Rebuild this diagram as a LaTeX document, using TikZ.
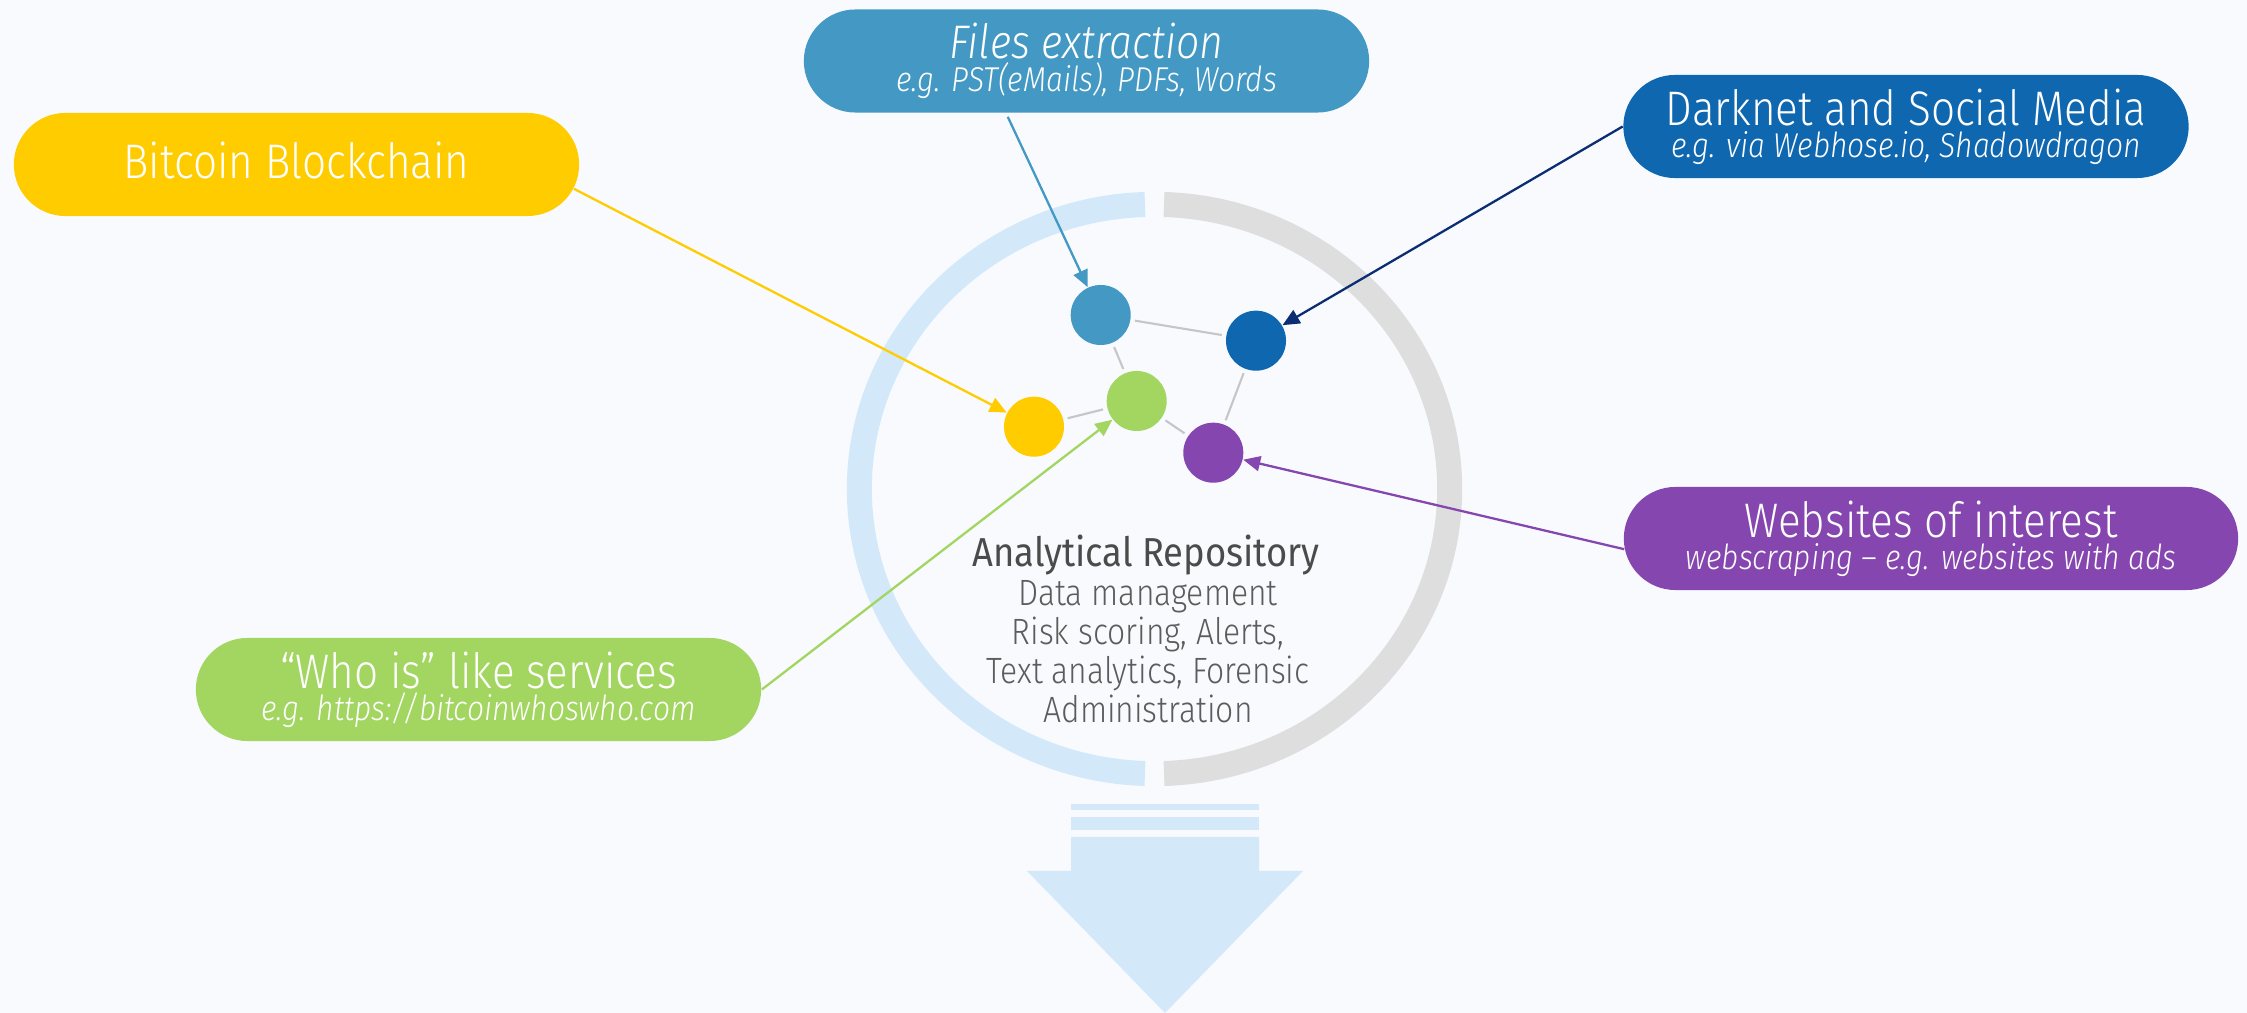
\documentclass[tikz,border=0pt]{standalone}
\usepackage{fontspec}
\usetikzlibrary{shapes.misc,arrows.meta}
\IfFontExistsTF{Fira Sans Light}{%
  \IfFontExistsTF{Fira Sans Light Italic}{%
    \setmainfont{Fira Sans Light}[ItalicFont={Fira Sans Light Italic}, FakeStretch=0.87]}{%
    \setmainfont{Fira Sans Light}[FakeStretch=0.87]}}{%
  \setmainfont{Fira Sans}[FakeStretch=0.87]}
\newfontfamily\regularface{Fira Sans}[FakeStretch=0.9]
\newcommand\pilltitle{\fontsize{13.8}{9.2}\selectfont}
\newcommand\pillsub{\fontsize{9.8}{9.2}\selectfont\itshape}
\newcommand\repotitle{\regularface\fontsize{11.5}{12}\selectfont}
\newcommand\repobody{\fontsize{10.4}{11.1}\selectfont}

\definecolor{bgpaper}{RGB}{248,250,254}
\definecolor{filesblue}{RGB}{67,153,195}
\definecolor{darkblue}{RGB}{15,103,176}
\definecolor{navyarrow}{RGB}{10,45,115}
\definecolor{btcyellow}{RGB}{255,204,0}
\definecolor{whoisgreen}{RGB}{163,213,97}
\definecolor{webpurple}{RGB}{133,71,175}
\definecolor{ringblue}{RGB}{211,233,250}
\definecolor{ringgrey}{RGB}{222,222,222}
\definecolor{edgegrey}{RGB}{198,198,198}
\definecolor{titlegrey}{RGB}{75,75,75}
\definecolor{bodygrey}{RGB}{92,92,92}

\tikzset{
  pill/.style={rounded rectangle, minimum width=5.65cm, minimum height=1.03cm,
    inner sep=0pt, text=white, align=center, font=\pilltitle},
  dot/.style={circle, minimum size=0.6cm, inner sep=0pt},
  link/.style={edgegrey, line width=0.6pt, shorten <=0.04cm, shorten >=0.04cm},
  feed/.style={line width=0.65pt, -{Triangle[length=0.17cm,width=0.15cm]}},
  ringpart/.style={line width=0.25cm}
}

\begin{document}
\begin{tikzpicture}[x=0.01cm,y=-0.01cm]
\useasboundingbox (0,0) rectangle (2247,1013);
\fill[bgpaper] (0,0) rectangle (2247,1013);

% repository ring and output arrow
\coordinate (ctr) at (1154.5,489);
\draw[ringpart, ringblue] (ctr) ++(91.85:2.95cm and 2.845cm)
  arc[start angle=91.85, end angle=268.15, x radius=2.95cm, y radius=2.845cm];
\draw[ringpart, ringgrey] (ctr) ++(-88.15:2.95cm and 2.845cm)
  arc[start angle=-88.15, end angle=88.15, x radius=2.95cm, y radius=2.845cm];
\fill[ringblue] (1071,804) rectangle (1259,810);
\fill[ringblue] (1071,817) rectangle (1259,830);
\fill[ringblue] (1071,837) -- (1259,837) -- (1259,871) -- (1303,871)
  -- (1165,1013) -- (1027,871) -- (1071,871) -- cycle;

% sources
\node[pill, fill=btcyellow, text depth=2.4pt] (btc) at (296.5,164.5) {Bitcoin Blockchain};
\node[pill, fill=filesblue] (files) at (1086.5,61)
  {\fontsize{13.4}{9.2}\selectfont\itshape Files extraction\\{\pillsub e.g. PST(eMails), PDFs, Words}};
\node[pill, fill=darkblue] (dark) at (1906,126.5)
  {Darknet and Social Media\\{\pillsub e.g. via Webhose.io, Shadowdragon}};
\node[pill, fill=whoisgreen] (whois) at (478.5,689.5)
  {“Who is” like services\\{\pillsub e.g. https://bitcoinwhoswho.com}};
\node[pill, fill=webpurple, minimum width=6.14cm] (web) at (1931,538.5)
  {Websites of interest\\{\pillsub webscraping – e.g. websites with ads}};

% data points
\node[dot, fill=filesblue] (nfiles) at (1100.7,315) {};
\node[dot, fill=darkblue] (ndark) at (1256,340.7) {};
\node[dot, fill=whoisgreen] (ngreen) at (1136.7,401) {};
\node[dot, fill=btcyellow] (nbtc) at (1034,426.7) {};
\node[dot, fill=webpurple] (nweb) at (1213.3,452.7) {};

\draw[link] (nfiles) -- (ndark);
\draw[link] (nfiles) -- (ngreen);
\draw[link] (ngreen) -- (nbtc);
\draw[link] (ngreen) -- (nweb);
\draw[link] (ndark) -- (nweb);

\draw[feed, filesblue, shorten <=0.04cm] (files.213.7) -- (nfiles);
\draw[feed, btcyellow] (btc.-5) -- (nbtc);
\draw[feed, navyarrow] (dark.west) -- (ndark);
\draw[feed, whoisgreen] (whois.east) -- (ngreen);
\draw[feed, webpurple] (web.182.8) -- (nweb);

\node[font=\repotitle, text=titlegrey, anchor=base] (repo) at (1146,567) {Analytical Repository};
\node[font=\repobody, text=bodygrey, align=center, anchor=north, inner sep=0pt] (tasks) at (1148,580)
  {Data management\\Risk scoring, Alerts,\\Text analytics, Forensic\\Administration};
\end{tikzpicture}
\end{document}
